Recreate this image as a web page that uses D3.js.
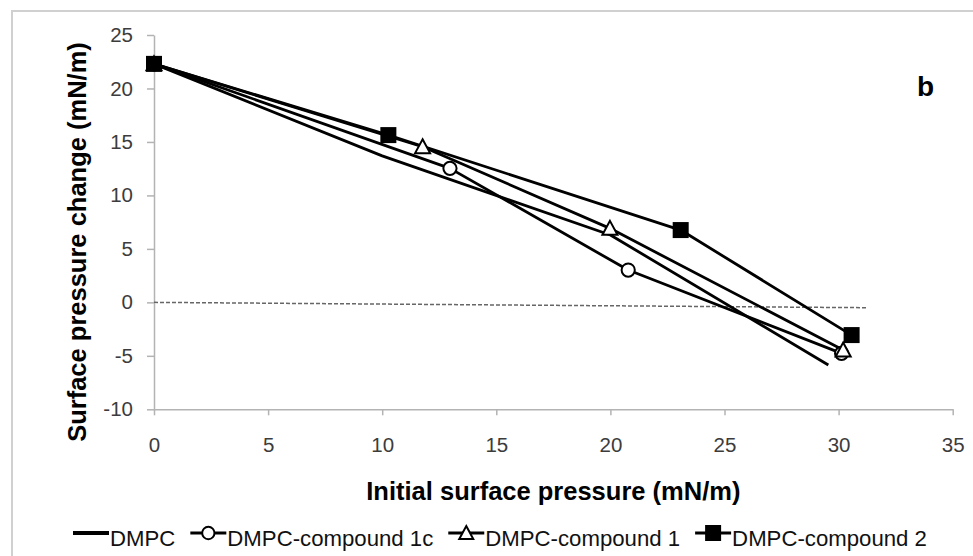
<!DOCTYPE html>
<html>
<head>
<meta charset="utf-8">
<script src="https://cdn.jsdelivr.net/npm/d3@7"></script>
<style>
  html, body { margin: 0; padding: 0; background: #fff; }
  svg { display: block; }
  text { font-family: "Liberation Sans", Arial, sans-serif; }
</style>
</head>
<body>
<svg id="chart" width="973" height="556"></svg>
<script>
// Initial surface pressure (mN/m) and surface pressure change (mN/m) per monolayer
const dmpcX = [0, 10, 20, 29.55];
const dmpcY = [22.3, 13.7, 6.3, -5.86];
const comp1cX = [0, 12.97, 20.78, 30.13];
const comp1cY = [22.3, 12.53, 3.02, -4.77];
const comp1X = [0, 11.77, 19.98, 30.2];
const comp1Y = [22.3, 14.55, 6.92, -4.46];
const comp2X = [0, 10.27, 23.08, 30.57];
const comp2Y = [22.3, 15.64, 6.76, -3.06];
// reference line around zero change
const zeroX = [0, 31.23];
const zeroY = [0, -0.5];

const xTicks = [0, 5, 10, 15, 20, 25, 30, 35];
const yTicks = [-10, -5, 0, 5, 10, 15, 20, 25];

const seriesNames = ["DMPC", "DMPC-compound 1c", "DMPC-compound 1", "DMPC-compound 2"];
const seriesMarkers = ["none", "circle", "triangle", "square"];
const seriesX = [dmpcX, comp1cX, comp1X, comp2X];
const seriesY = [dmpcY, comp1cY, comp1Y, comp2Y];

const svg = d3.select("#chart");

// chart frame
svg.append("rect")
  .attr("x", 12).attr("y", 11)
  .attr("width", 1000).attr("height", 600)
  .attr("fill", "#fff")
  .attr("stroke", "#d0d0d0")
  .attr("stroke-width", 2);

const x = d3.scaleLinear().domain([0, 35]).range([154, 952.7]);
const y = d3.scaleLinear().domain([-10, 25]).range([409.3, 35]);

const axisColor = "#b3b3b3";
const tickText = "#3c3c3c";

// y axis
const gy = svg.append("g")
  .attr("transform", `translate(${x(0)},0)`)
  .call(d3.axisLeft(y).tickValues(yTicks).tickSize(7).tickSizeOuter(0).tickPadding(14)
    .tickFormat(d3.format("d")));
gy.select(".domain").attr("stroke", axisColor).attr("stroke-width", 1.5);
gy.selectAll(".tick line").attr("stroke", axisColor).attr("stroke-width", 1.5);
gy.selectAll(".tick text").attr("fill", tickText).style("font-size", "20.5px")
  .style("font-family", "'Liberation Sans', Arial, sans-serif")
  .text(d => d < 0 ? "-" + Math.abs(d) : d);

// x axis
const gx = svg.append("g")
  .attr("transform", `translate(0,${y(-10)})`)
  .call(d3.axisBottom(x).tickValues(xTicks).tickSize(6).tickSizeOuter(0).tickPadding(22)
    .tickFormat(d3.format("d")));
gx.select(".domain").attr("stroke", axisColor).attr("stroke-width", 1.5);
gx.selectAll(".tick line").attr("stroke", axisColor).attr("stroke-width", 1.5);
gx.selectAll(".tick text").attr("fill", tickText).style("font-size", "20.5px")
  .style("font-family", "'Liberation Sans', Arial, sans-serif");

// dashed zero line
const line = d3.line().x(d => x(d[0])).y(d => y(d[1]));
svg.append("path")
  .datum(d3.zip(zeroX, zeroY))
  .attr("d", line)
  .attr("fill", "none")
  .attr("stroke", "#666")
  .attr("stroke-width", 1.5)
  .attr("stroke-dasharray", "4,2");

// series lines
seriesX.forEach((xs, i) => {
  svg.append("path")
    .datum(d3.zip(xs, seriesY[i]))
    .attr("d", line)
    .attr("fill", "none")
    .attr("stroke", "#000")
    .attr("stroke-width", 2.8)
    .attr("stroke-linejoin", "round");
});

function drawMarker(g, kind, cx, cy, size) {
  if (kind === "circle") {
    g.append("circle").attr("cx", cx).attr("cy", cy).attr("r", size * 0.44)
      .attr("fill", "#fff").attr("stroke", "#000").attr("stroke-width", 2);
  } else if (kind === "triangle") {
    const h = size * 0.5;
    g.append("path")
      .attr("d", `M${cx},${cy - h}L${cx + h},${cy + h * 0.85}L${cx - h},${cy + h * 0.85}Z`)
      .attr("fill", "#fff").attr("stroke", "#000").attr("stroke-width", 2);
  } else if (kind === "square") {
    g.append("rect").attr("x", cx - size / 2).attr("y", cy - size / 2)
      .attr("width", size).attr("height", size).attr("fill", "#000");
  }
}

// markers
const markerLayer = svg.append("g");
seriesX.forEach((xs, i) => {
  xs.forEach((v, j) => drawMarker(markerLayer, seriesMarkers[i], x(v), y(seriesY[i][j]), i === 3 ? 16 : 15));
});

// axis titles
svg.append("text")
  .attr("x", (x(0) + x(35)) / 2).attr("y", 500)
  .attr("text-anchor", "middle")
  .style("font-size", "25.5px").style("font-weight", "bold")
  .text("Initial surface pressure (mN/m)");

svg.append("text")
  .attr("transform", "translate(86,242) rotate(-90)")
  .attr("text-anchor", "middle")
  .style("font-size", "25.5px").style("font-weight", "bold")
  .text("Surface pressure change (mN/m)");

// panel label
svg.append("text")
  .attr("x", 917).attr("y", 96)
  .style("font-size", "28px").style("font-weight", "bold")
  .text("b");

// legend
const legend = svg.append("g");
let lx = 73;
const ly = 533;
seriesNames.forEach((name, i) => {
  legend.append("line")
    .attr("x1", lx).attr("x2", lx + 36).attr("y1", ly).attr("y2", ly)
    .attr("stroke", "#000").attr("stroke-width", i === 0 ? 4 : 2.8);
  drawMarker(legend, seriesMarkers[i], lx + 18, ly, i === 3 ? 16 : 14);
  const t = legend.append("text")
    .attr("x", lx + 37).attr("y", ly + 12.5)
    .style("font-size", "22.2px").attr("fill", "#111")
    .text(name);
  lx = lx + 37 + t.node().getComputedTextLength() + 15;
});
</script>
</body>
</html>
